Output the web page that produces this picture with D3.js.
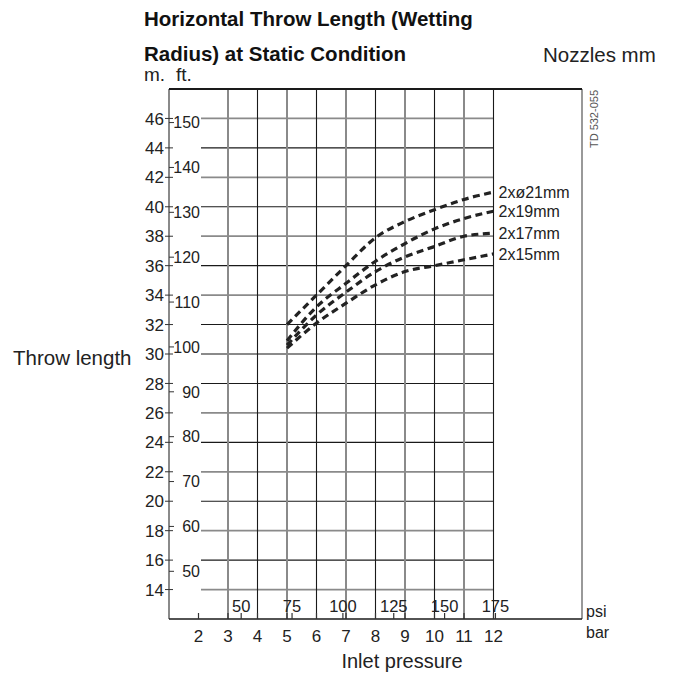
<!DOCTYPE html>
<html>
<head>
<meta charset="utf-8">
<script src="https://cdn.jsdelivr.net/npm/d3@7"></script>
<style>
  body { margin: 0; background: #fff; }
  text { font-family: "Liberation Sans", Arial, sans-serif; fill: #222; }
</style>
</head>
<body>
<div id="chart-area"></div>
<script>
// data
const barTicks = [2, 3, 4, 5, 6, 7, 8, 9, 10, 11, 12];
const psiTicks = [50, 75, 100, 125, 150, 175];
const mTicks = [14, 16, 18, 20, 22, 24, 26, 28, 30, 32, 34, 36, 38, 40, 42, 44, 46];
const ftTicks = [50, 60, 70, 80, 90, 100, 110, 120, 130, 140, 150];
const pressures = [5, 6, 7, 8, 9, 10, 11, 12];
const nozzles = ['2xø21mm', '2x19mm', '2x17mm', '2x15mm'];
const throw21 = [32.0, 34.0, 36.0, 37.9, 39.0, 39.8, 40.5, 41.0];
const throw19 = [30.9, 33.2, 34.8, 36.3, 37.5, 38.5, 39.2, 39.7];
const throw17 = [30.6, 32.65, 34.2, 35.6, 36.6, 37.3, 38.0, 38.2];
const throw15 = [30.4, 32.1, 33.45, 34.7, 35.6, 36.0, 36.4, 36.8];

const series = [throw21, throw19, throw17, throw15].map((vals, i) => ({
  name: nozzles[i],
  points: vals.map((v, j) => ({ bar: pressures[j], m: v }))
}));

const svg = d3.select('#chart-area')
  .append('svg')
  .attr('width', 676)
  .attr('height', 675);

const x = d3.scaleLinear().domain([1, 15]).range([169, 582]);
const y = d3.scaleLinear().domain([12, 48]).range([619, 89]);
const gridLeft = 201;
const lastBar = 12;

// horizontal grid (metres)
svg.append('g').selectAll('line')
  .data(mTicks)
  .enter().append('line')
  .attr('x1', gridLeft)
  .attr('x2', x(lastBar))
  .attr('y1', d => y(d))
  .attr('y2', d => y(d))
  .attr('stroke', (d, i) => i % 2 === 0 ? '#8a8a8a' : '#1a1a1a')
  .attr('stroke-width', (d, i) => i % 2 === 0 ? 1.8 : 1.1);

// vertical grid (bar)
svg.append('g').selectAll('line')
  .data(barTicks.filter(d => d > 2))
  .enter().append('line')
  .attr('x1', d => x(d))
  .attr('x2', d => x(d))
  .attr('y1', y(48))
  .attr('y2', y(12))
  .attr('stroke', d => d % 2 === 1 ? '#8a8a8a' : '#1a1a1a')
  .attr('stroke-width', d => d % 2 === 1 ? 2 : 1.1);

// frame
svg.append('line').attr('x1', x(1)).attr('x2', x(1)).attr('y1', y(48)).attr('y2', y(12))
  .attr('stroke', '#8a8a8a').attr('stroke-width', 2);
svg.append('line').attr('x1', x(15)).attr('x2', x(15)).attr('y1', y(48)).attr('y2', y(12))
  .attr('stroke', '#777').attr('stroke-width', 1.5);
svg.append('line').attr('x1', x(1)).attr('x2', x(15)).attr('y1', y(48)).attr('y2', y(48))
  .attr('stroke', '#1a1a1a').attr('stroke-width', 2.2);
svg.append('line').attr('x1', x(1)).attr('x2', x(15)).attr('y1', y(12)).attr('y2', y(12))
  .attr('stroke', '#1a1a1a').attr('stroke-width', 1.5);

// metre ticks + labels
const mAxis = svg.append('g');
mAxis.selectAll('line')
  .data(mTicks)
  .enter().append('line')
  .attr('x1', x(1) - 4).attr('x2', x(1) + 4)
  .attr('y1', d => y(d)).attr('y2', d => y(d))
  .attr('stroke', '#333').attr('stroke-width', 1);
mAxis.selectAll('text')
  .data(mTicks)
  .enter().append('text')
  .attr('x', x(1) - 5)
  .attr('y', d => y(d))
  .attr('dy', '0.36em')
  .attr('text-anchor', 'end')
  .attr('font-size', '17px')
  .text(d => d);

// feet ticks + labels
const ftAxis = svg.append('g');
ftAxis.selectAll('line')
  .data(ftTicks)
  .enter().append('line')
  .attr('x1', x(1)).attr('x2', x(1) + 5)
  .attr('y1', d => y(d * 0.3048)).attr('y2', d => y(d * 0.3048))
  .attr('stroke', '#333').attr('stroke-width', 1);
ftAxis.selectAll('text')
  .data(ftTicks)
  .enter().append('text')
  .attr('x', gridLeft - 1)
  .attr('y', d => y(d * 0.3048))
  .attr('dy', '0.36em')
  .attr('text-anchor', 'end')
  .attr('font-size', '16px')
  .text(d => d);

// bar ticks + labels
const barAxis = svg.append('g');
barAxis.selectAll('line')
  .data(barTicks)
  .enter().append('line')
  .attr('x1', d => x(d)).attr('x2', d => x(d))
  .attr('y1', y(12) - 6).attr('y2', y(12))
  .attr('stroke', '#333').attr('stroke-width', 1.2);
barAxis.selectAll('text')
  .data(barTicks)
  .enter().append('text')
  .attr('x', d => x(d))
  .attr('y', 642)
  .attr('text-anchor', 'middle')
  .attr('font-size', '17px')
  .text(d => d);

// psi ticks + labels
const psiAxis = svg.append('g');
psiAxis.selectAll('line')
  .data(psiTicks)
  .enter().append('line')
  .attr('x1', d => x(d / 14.5038)).attr('x2', d => x(d / 14.5038))
  .attr('y1', y(12) - 6).attr('y2', y(12))
  .attr('stroke', '#333').attr('stroke-width', 1.2);
psiAxis.selectAll('text')
  .data(psiTicks)
  .enter().append('text')
  .attr('x', d => x(d / 14.5038))
  .attr('y', 612)
  .attr('text-anchor', 'middle')
  .attr('font-size', '16.5px')
  .text(d => d);

// curves
const line = d3.line()
  .x(d => x(d.bar))
  .y(d => y(d.m))
  .curve(d3.curveMonotoneX);

svg.append('g').selectAll('path')
  .data(series)
  .enter().append('path')
  .attr('d', d => line(d.points))
  .attr('fill', 'none')
  .attr('stroke', '#222')
  .attr('stroke-width', 3.2)
  .attr('stroke-dasharray', '7,4.5');

svg.append('g').selectAll('text')
  .data(series)
  .enter().append('text')
  .attr('x', x(lastBar) + 5)
  .attr('y', d => y(d.points[d.points.length - 1].m))
  .attr('dy', '0.36em')
  .attr('font-size', '16px')
  .text(d => d.name);

// titles and labels
svg.append('text').attr('x', 144).attr('y', 26)
  .attr('font-size', '20.5px').attr('font-weight', 'bold').style('fill', '#111')
  .text('Horizontal Throw Length (Wetting');
svg.append('text').attr('x', 144).attr('y', 61)
  .attr('font-size', '20.5px').attr('font-weight', 'bold').style('fill', '#111')
  .text('Radius) at Static Condition');
svg.append('text').attr('x', 543).attr('y', 62)
  .attr('font-size', '20.5px').text('Nozzles mm');
svg.append('text').attr('x', 144).attr('y', 81)
  .attr('font-size', '19px').text('m.');
svg.append('text').attr('x', 176).attr('y', 81)
  .attr('font-size', '19px').text('ft.');
svg.append('text').attr('x', 13).attr('y', 365)
  .attr('font-size', '20.5px').text('Throw length');
svg.append('text').attr('x', 402).attr('y', 668)
  .attr('text-anchor', 'middle')
  .attr('font-size', '20px').text('Inlet pressure');
svg.append('text').attr('x', 586).attr('y', 617)
  .attr('font-size', '16px').text('psi');
svg.append('text').attr('x', 586).attr('y', 638)
  .attr('font-size', '16px').text('bar');
svg.append('text')
  .attr('transform', 'translate(598, 90) rotate(-90)')
  .attr('text-anchor', 'end')
  .attr('font-size', '11px')
  .style('fill', '#555')
  .text('TD 532-055');
</script>
</body>
</html>
